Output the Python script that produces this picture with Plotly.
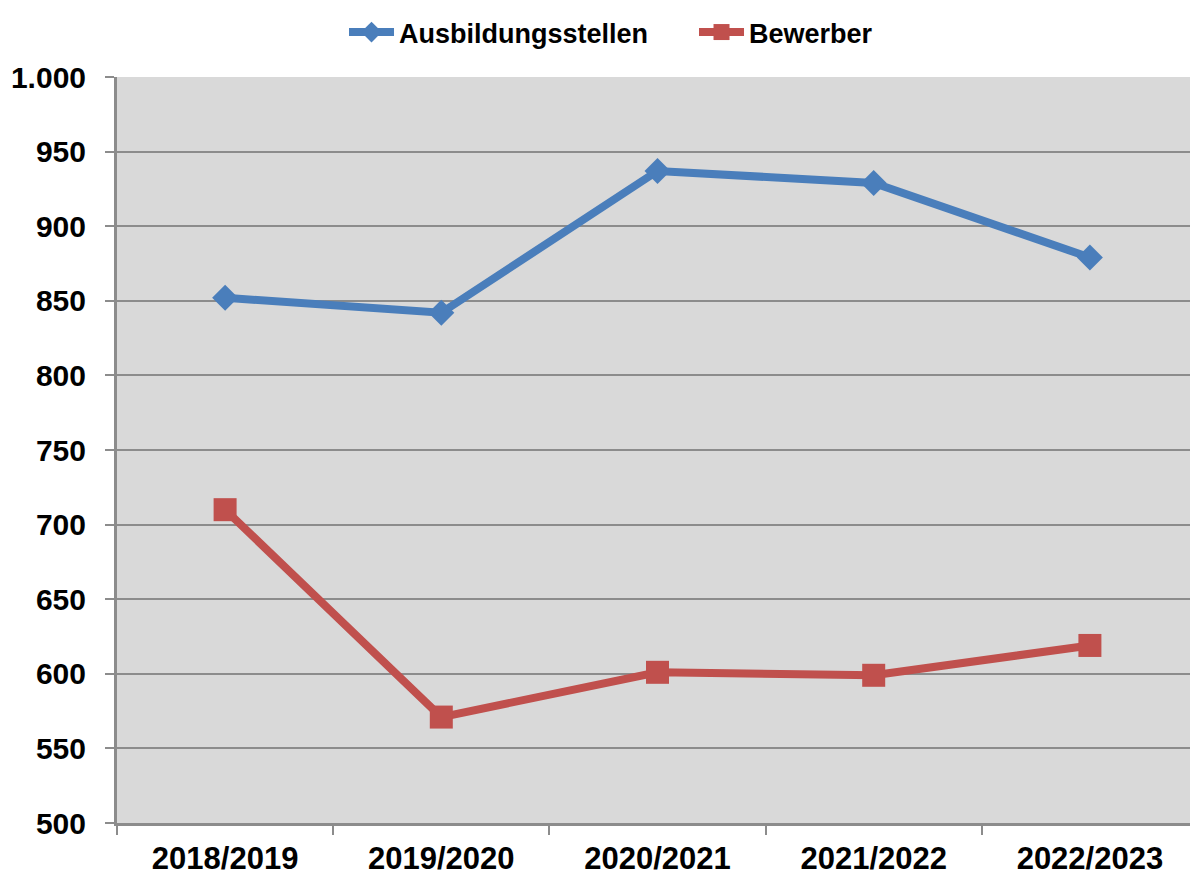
import plotly.graph_objects as go

jahre = ["2018/2019", "2019/2020", "2020/2021", "2021/2022", "2022/2023"]
ausbildungsstellen = [852, 842, 937, 929, 879]
bewerber = [710, 571, 601, 599, 619]
y_ticks = [500, 550, 600, 650, 700, 750, 800, 850, 900, 950, 1000]

fig = go.Figure()

fig.add_trace(go.Scatter(
    x=jahre, y=ausbildungsstellen, name="Ausbildungsstellen",
    mode="lines+markers",
    line=dict(color="#4a7ebb", width=8),
    marker=dict(symbol="diamond", size=20, color="#4a7ebb"),
))
fig.add_trace(go.Scatter(
    x=jahre, y=bewerber, name="Bewerber",
    mode="lines+markers",
    line=dict(color="#c0504d", width=8),
    marker=dict(symbol="square", size=23, color="#c0504d"),
))

# the page body adds 8px on the top/left, so the figure is sized to fit
fig.update_layout(
    width=1190, height=868,
    margin=dict(l=109, r=0, t=69, b=51),
    paper_bgcolor="white",
    plot_bgcolor="#d9d9d9",
    separators=",.",
    font=dict(family="Liberation Sans, Arial", color="black"),
    legend=dict(
        orientation="h", x=0.21, xanchor="left",
        yref="container", y=1.0, yanchor="top",
        font=dict(size=27, weight="bold"),
        itemwidth=45, entrywidth=290,
        bgcolor="rgba(0,0,0,0)",
    ),
    showlegend=True,
)

fig.update_xaxes(
    type="category",
    range=[-0.5, 4.5],
    tickson="boundaries",
    ticks="outside", ticklen=9, tickwidth=2, tickcolor="#8c8c8c",
    showline=True, linecolor="#8c8c8c", linewidth=3,
    showgrid=False,
    tickfont=dict(size=31, weight="bold"),
    ticklabelstandoff=6,
)
fig.update_yaxes(
    range=[500, 1000],
    tickmode="array", tickvals=y_ticks,
    tickformat=",d",
    ticks="outside", ticklen=9, tickwidth=2, tickcolor="#8c8c8c",
    showline=True, linecolor="#8c8c8c", linewidth=3,
    showgrid=True, gridcolor="#8c8c8c", gridwidth=2,
    zeroline=False,
    tickfont=dict(size=30, weight="bold"),
    ticklabelstandoff=13,
)

fig.write_html("out.html")
